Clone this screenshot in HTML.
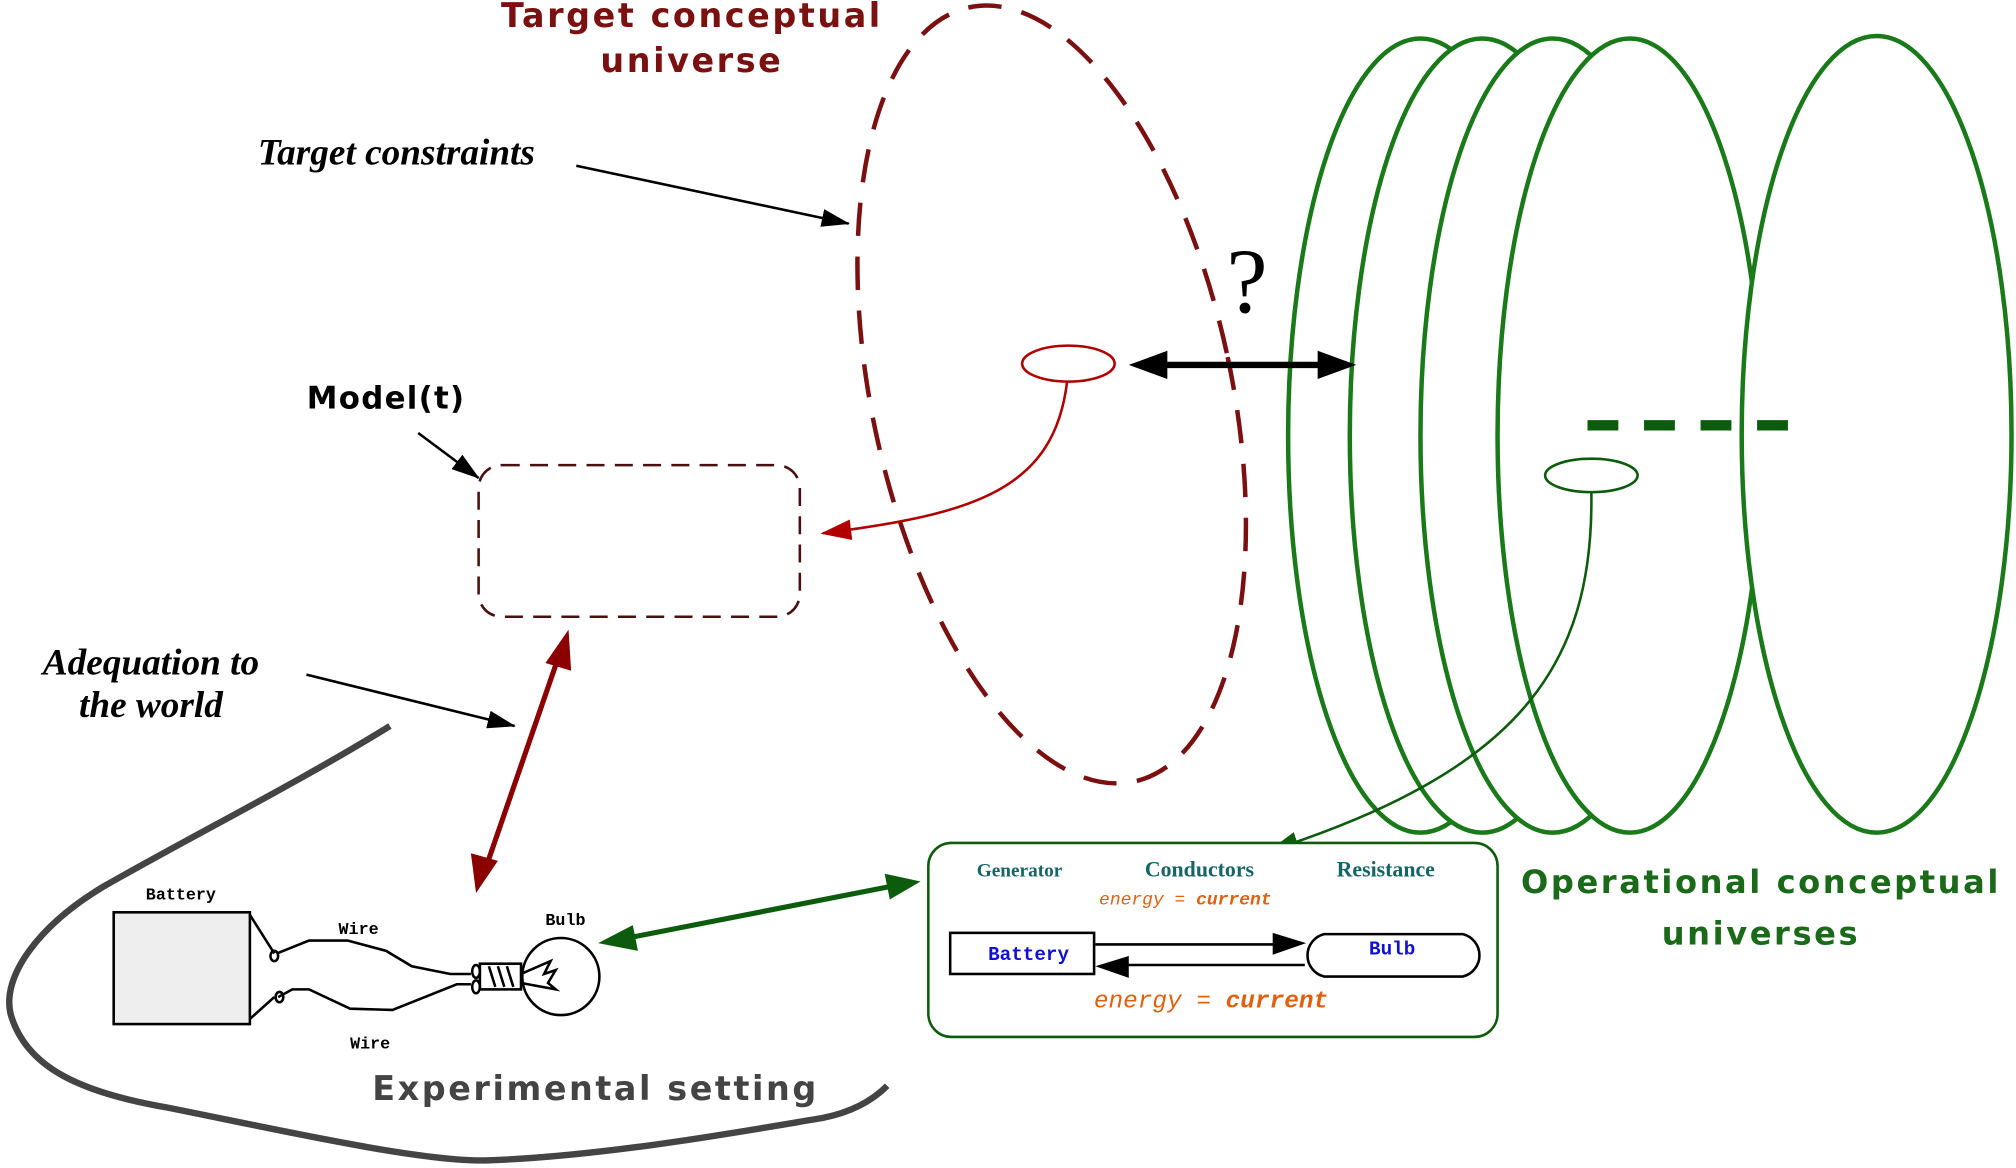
<!DOCTYPE html>
<html><head><meta charset="utf-8"><style>
html,body{margin:0;padding:0;background:#fff;}
svg{display:block;}
</style></head><body>
<svg width="2016" height="1168" viewBox="0 0 1568 909" xmlns="http://www.w3.org/2000/svg">
<defs>
<marker id="ab" markerWidth="10" markerHeight="8" refX="9" refY="4" orient="auto" markerUnits="userSpaceOnUse"><path d="M0,0 L10,4 L0,8 Z" fill="#000"/></marker>
<marker id="ar" markerWidth="24" markerHeight="16" refX="22" refY="8" orient="auto" markerUnits="userSpaceOnUse"><path d="M0,0 L24,8 L0,16 Z" fill="#8b0000"/></marker>
<marker id="ar2" markerWidth="24" markerHeight="16" refX="22" refY="8" orient="auto" markerUnits="userSpaceOnUse"><path d="M0,0 L24,8 L0,16 Z" fill="#b00000"/></marker>
<marker id="ag" markerWidth="24" markerHeight="16" refX="22" refY="8" orient="auto" markerUnits="userSpaceOnUse"><path d="M0,0 L24,8 L0,16 Z" fill="#0d5c0d"/></marker>
<marker id="ak" markerWidth="28" markerHeight="20" refX="26" refY="10" orient="auto" markerUnits="userSpaceOnUse"><path d="M0,0 L28,10 L0,20 Z" fill="#000"/></marker>
<marker id="as" markerWidth="22" markerHeight="14" refX="21" refY="7" orient="auto" markerUnits="userSpaceOnUse"><path d="M0,0 L22,7 L0,14 Z" fill="#000"/></marker>
</defs>

<!-- green ellipses -->
<g fill="none" stroke="#1a7a1a" stroke-width="3.5">
<ellipse cx="1105" cy="339" rx="103" ry="309" fill="#fff"/>
<ellipse cx="1153" cy="339" rx="103" ry="309" fill="#fff"/>
<ellipse cx="1208" cy="339" rx="103" ry="309" fill="#fff"/>
<ellipse cx="1268" cy="339" rx="103" ry="309" fill="#fff"/>
<ellipse cx="1460" cy="338" rx="105" ry="310" fill="#fff"/>
</g>
<line x1="1235" y1="331" x2="1395" y2="331" stroke="#0d5c0d" stroke-width="8" stroke-dasharray="24,20"/>
<ellipse cx="1238" cy="370" rx="36" ry="13" fill="#fff" stroke="#0d5c0d" stroke-width="2"/>
<path d="M1238,383 C1240,520 1180,600 988,662" fill="none" stroke="#0d5c0d" stroke-width="2" marker-end="url(#ag)"/>

<!-- red dashed tilted ellipse -->
<ellipse cx="818" cy="307" rx="140" ry="308" transform="rotate(-12 818 307)" fill="none" stroke="#7a1010" stroke-width="3.5" stroke-dasharray="26,16"/>

<!-- titles -->
<g font-family="'DejaVu Sans','Liberation Sans',sans-serif" font-weight="bold">
<text x="538" y="21" font-size="26" fill="#7a1010" text-anchor="middle" letter-spacing="2">Target conceptual</text>
<text x="538" y="56" font-size="26" fill="#7a1010" text-anchor="middle" letter-spacing="2">universe</text>
<text x="300" y="318" font-size="24" fill="#000" text-anchor="middle" letter-spacing="1">Model(t)</text>
<text x="1370" y="695" font-size="25" fill="#1a6a1a" text-anchor="middle" letter-spacing="2">Operational conceptual</text>
<text x="1370" y="735" font-size="25" fill="#1a6a1a" text-anchor="middle" letter-spacing="2">universes</text>
<text x="463" y="856" font-size="26" fill="#444" text-anchor="middle" letter-spacing="2" font-weight="normal" style="font-weight:600">Experimental setting</text>
</g>
<g font-family="'Liberation Serif',serif" font-style="italic" font-weight="bold" fill="#000">
<text x="308" y="128" font-size="29" text-anchor="middle">Target constraints</text>
<text x="117" y="525" font-size="29" text-anchor="middle">Adequation to</text>
<text x="117" y="558" font-size="29" text-anchor="middle">the world</text>
</g>
<text x="970" y="243" font-family="'Liberation Serif',serif" font-size="72" text-anchor="middle">?</text>

<!-- pointer arrows -->
<line x1="448" y1="129" x2="660" y2="174" stroke="#000" stroke-width="2" marker-end="url(#as)"/>
<line x1="238" y1="525" x2="400" y2="565" stroke="#000" stroke-width="2" marker-end="url(#as)"/>
<line x1="325" y1="337" x2="372" y2="372" stroke="#000" stroke-width="2" marker-end="url(#as)"/>

<!-- small red ellipse and curve -->
<ellipse cx="831" cy="283" rx="36" ry="14" fill="#fff" stroke="#b00000" stroke-width="2"/>
<path d="M830,297 C820,380 760,400 640,415" fill="none" stroke="#b00000" stroke-width="2" marker-end="url(#ar2)"/>

<!-- double black arrow -->
<line x1="900" y1="284" x2="1030" y2="284" stroke="#000" stroke-width="5"/>
<path d="M878,284 L908,273 L908,295 Z" fill="#000"/>
<path d="M1055,284 L1025,273 L1025,295 Z" fill="#000"/>

<!-- model rect -->
<rect x="372" y="362" width="250" height="118" rx="18" fill="none" stroke="#4a1010" stroke-width="2" stroke-dasharray="14,8"/>

<!-- red double arrow -->
<line x1="376" y1="680" x2="436" y2="506" stroke="#8b0000" stroke-width="4"/>
<path d="M442,490 L444,522 L424,516 Z" fill="#8b0000"/>
<path d="M370,695 L366,664 L387,670 Z" fill="#8b0000"/>

<!-- experimental curve -->
<path d="M303,565 C230,610 150,650 80,690 C30,720 0,760 8,790 C20,830 60,850 130,862 C220,880 330,905 380,903 C470,900 580,880 640,870 C665,865 680,855 690,845" fill="none" stroke="#444" stroke-width="5"/>

<!-- circuit drawing -->
<g font-family="'Liberation Mono',monospace" font-weight="bold" font-size="13" fill="#000">
<text x="113" y="700">Battery</text>
<text x="263" y="727">Wire</text>
<text x="272" y="816">Wire</text>
<text x="424" y="720">Bulb</text>
</g>
<rect x="88" y="710" width="106" height="87" fill="#eee" stroke="#000" stroke-width="2"/>
<g fill="none" stroke="#000" stroke-width="2">
<path d="M194,712 L213,742 M215,742 L240,732 L270,732 L300,740 L320,752 L350,758 L366,758"/>
<path d="M194,793 L213,776 M216,776 L227,770 L240,770 L272,785 L305,786 L355,766 L366,766"/>
<ellipse cx="213" cy="744" rx="3" ry="4"/>
<ellipse cx="217" cy="776" rx="3" ry="4"/>
<ellipse cx="370" cy="756" rx="3" ry="5"/>
<ellipse cx="370" cy="768" rx="3" ry="5"/>
<rect x="373" y="750" width="32" height="20"/>
<path d="M380,752 L385,768 M387,752 L392,768 M394,752 L399,768"/>
<circle cx="436" cy="760" r="30"/>
<path d="M405,758 L428,748 L423,758 L432,755 L426,765 L432,770 L405,765"/>
</g>

<!-- green double arrow -->
<line x1="488" y1="730" x2="692" y2="690" stroke="#0d5c0d" stroke-width="4"/>
<path d="M465,734 L492,720 L496,740 Z" fill="#0d5c0d"/>
<path d="M716,686 L688,680 L692,700 Z" fill="#0d5c0d"/>

<!-- green box -->
<rect x="722" y="656" width="443" height="151" rx="18" fill="#fff" stroke="#0d5c0d" stroke-width="2"/>
<g font-family="'Liberation Serif',serif" font-weight="bold" fill="#166464">
<text x="793" y="682" font-size="15" text-anchor="middle">Generator</text>
<text x="933" y="682" font-size="17" text-anchor="middle">Conductors</text>
<text x="1078" y="682" font-size="17" text-anchor="middle">Resistance</text>
</g>
<text x="922" y="704" font-family="'Liberation Mono',monospace" font-style="italic" font-size="14" fill="#e06010" text-anchor="middle">energy = <tspan font-weight="bold">current</tspan></text>
<text x="942" y="784" font-family="'Liberation Mono',monospace" font-style="italic" font-size="19" fill="#e06010" text-anchor="middle">energy = <tspan font-weight="bold">current</tspan></text>
<rect x="739" y="726" width="112" height="32" fill="#fff" stroke="#000" stroke-width="2"/>
<text x="800" y="747" font-family="'Liberation Mono',monospace" font-weight="bold" font-size="15" fill="#1010d0" text-anchor="middle">Battery</text>
<path d="M1030,727 L1138,727 A17,17 0 0 1 1138,760 L1030,760 A17,17 0 0 1 1030,727 Z" fill="#fff" stroke="#000" stroke-width="2"/>
<text x="1083" y="743" font-family="'Liberation Mono',monospace" font-weight="bold" font-size="15" fill="#1010d0" text-anchor="middle">Bulb</text>
<line x1="852" y1="735" x2="995" y2="735" stroke="#000" stroke-width="2"/>
<path d="M1016,734 L990,726 L990,743 Z" fill="#000"/>
<line x1="874" y1="751" x2="1015" y2="751" stroke="#000" stroke-width="2"/>
<path d="M852,752 L878,744 L878,761 Z" fill="#000"/>
</svg>
</body></html>
